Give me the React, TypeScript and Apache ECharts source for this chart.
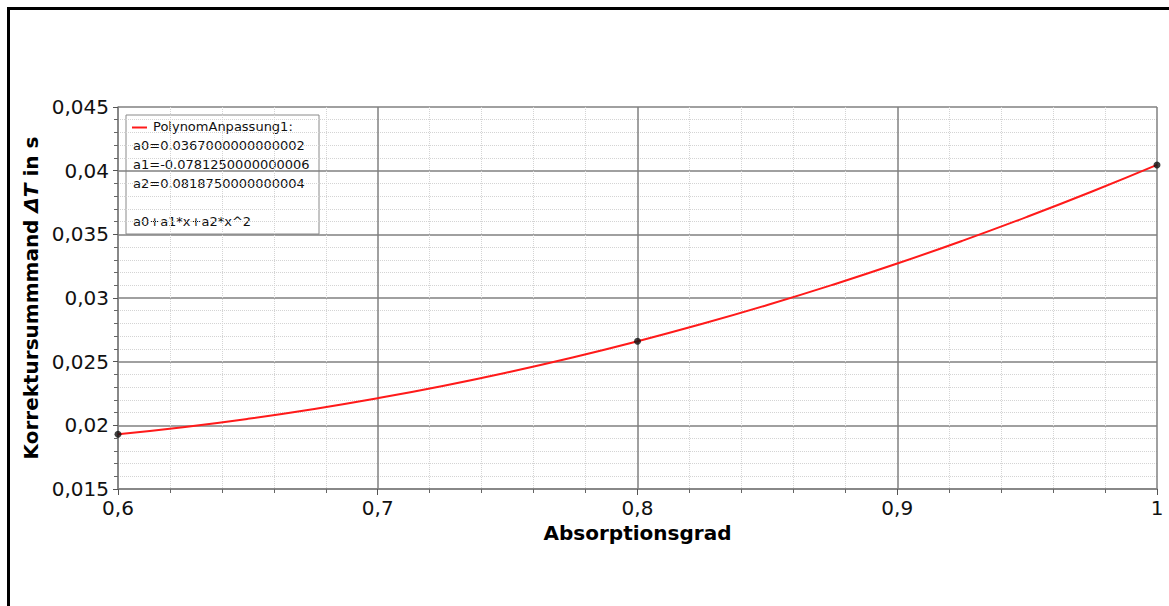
import React, { useEffect, useRef } from "react";
import * as echarts from "echarts";

// Measured points (Absorptionsgrad, ΔT)
const measuredX = [0.6, 0.8, 1.0];
const measuredY = [0.0193, 0.0266, 0.04045];

// Fitted curve PolynomAnpassung1, tabulated
const curveX = [0.6, 0.625, 0.65, 0.675, 0.7, 0.725, 0.75, 0.775, 0.8, 0.825, 0.85, 0.875, 0.9, 0.925, 0.95, 0.975, 1.0];
const curveY = [0.0193, 0.019854, 0.020511, 0.02127, 0.022131, 0.023094, 0.024161, 0.025329, 0.0266, 0.027973, 0.029449, 0.031027, 0.032706, 0.034488, 0.036373, 0.03836, 0.04045];

const legendLines = [
  "a0=0.0367000000000002",
  "a1=-0.0781250000000006",
  "a2=0.0818750000000004",
  "",
  "a0+a1*x+a2*x^2",
];
const seriesName = "PolynomAnpassung1:";

const FONT = "'DejaVu Sans', Verdana, sans-serif";

const fmt = (v: number, d: number) => {
  const p = Math.pow(10, d);
  return String(Math.round(v * p) / p).replace(".", ",");
};

export default function App() {
  const ref = useRef<HTMLDivElement>(null);

  useEffect(() => {
    if (!ref.current) return;
    const chart = echarts.init(ref.current, null, { renderer: "svg" });

    const legendTexts = legendLines.map((t, i) => ({
      type: "text",
      left: 133,
      top: 139 + i * 19,
      style: { text: t, font: `13px ${FONT}`, fill: "#111" },
    }));

    chart.setOption({
      animation: false,
      backgroundColor: "#fff",
      grid: { left: 118, right: 12, top: 107, bottom: 117, containLabel: false },
      xAxis: {
        type: "value",
        min: 0.6,
        max: 1,
        interval: 0.1,
        name: "Absorptionsgrad",
        nameLocation: "middle",
        nameGap: 34,
        nameTextStyle: { fontFamily: FONT, fontSize: 20, fontWeight: "bold", color: "#000" },
        axisLine: { show: true, lineStyle: { color: "#808080", width: 1.5 } },
        axisTick: { show: true, inside: false, length: 6, lineStyle: { color: "#555" } },
        minorTick: { show: true, splitNumber: 5, length: 4, lineStyle: { color: "#666" } },
        axisLabel: {
          fontFamily: FONT,
          fontSize: 20,
          color: "#111",
          margin: 9,
          formatter: (v: number) => fmt(v, 1),
        },
        splitLine: { show: true, lineStyle: { color: "#808080", width: 1.5 } },
        minorSplitLine: { show: true, lineStyle: { color: "#d4d4d4", type: "dotted", width: 1 } },
      },
      yAxis: {
        type: "value",
        min: 0.015,
        max: 0.045,
        interval: 0.005,
        name: "{b|Korrektursummmand }{i|ΔT}{b| in s}",
        nameLocation: "middle",
        nameGap: 72,
        nameTextStyle: {
          fontFamily: FONT,
          fontSize: 20,
          fontWeight: "bold",
          color: "#000",
          rich: {
            b: { fontFamily: FONT, fontSize: 20, fontWeight: "bold", color: "#000" },
            i: { fontFamily: FONT, fontSize: 20, fontWeight: "bold", fontStyle: "italic", color: "#000" },
          },
        },
        axisLine: { show: true, lineStyle: { color: "#808080", width: 1.5 } },
        axisTick: { show: true, length: 5, lineStyle: { color: "#555" } },
        minorTick: { show: true, splitNumber: 5, length: 4, lineStyle: { color: "#666" } },
        axisLabel: {
          fontFamily: FONT,
          fontSize: 20,
          color: "#111",
          margin: 9,
          formatter: (v: number) => fmt(v, 3),
        },
        splitLine: { show: true, lineStyle: { color: "#808080", width: 1.5 } },
        minorSplitLine: { show: true, lineStyle: { color: "#d4d4d4", type: "dotted", width: 1 } },
      },
      series: [
        {
          name: seriesName,
          type: "line",
          data: curveX.map((x, i) => [x, curveY[i]]),
          smooth: true,
          showSymbol: false,
          lineStyle: { color: "#ff1a1a", width: 2 },
          z: 3,
        },
        {
          type: "scatter",
          data: measuredX.map((x, i) => [x, measuredY[i]]),
          symbolSize: 7,
          itemStyle: { color: "#111" },
          clip: false,
          z: 4,
        },
      ],
      graphic: [
        {
          type: "group",
          z: 10,
          children: [
            {
              type: "rect",
              shape: { x: 126, y: 115, width: 193, height: 119 },
              style: { fill: "#fff", stroke: "#8a8a8a", lineWidth: 1 },
            },
            {
              type: "line",
              shape: { x1: 132, y1: 127.5, x2: 147, y2: 127.5 },
              style: { stroke: "#ff1a1a", lineWidth: 2 },
            },
            {
              type: "text",
              left: 153,
              top: 120,
              style: { text: seriesName, font: `13px ${FONT}`, fill: "#111" },
            },
            ...legendTexts,
          ],
        },
      ],
    });

    return () => chart.dispose();
  }, []);

  return (
    <div
      style={{
        position: "fixed",
        left: 0,
        top: 0,
        width: 1169,
        height: 606,
        overflow: "hidden",
        background: "#fff",
      }}
    >
      <div ref={ref} style={{ position: "absolute", left: 0, top: 0, width: 1169, height: 606 }} />
      <div
        style={{
          position: "absolute",
          left: 7,
          top: 7,
          width: 1300,
          height: 800,
          border: "3px solid #000",
          pointerEvents: "none",
        }}
      />
    </div>
  );
}
